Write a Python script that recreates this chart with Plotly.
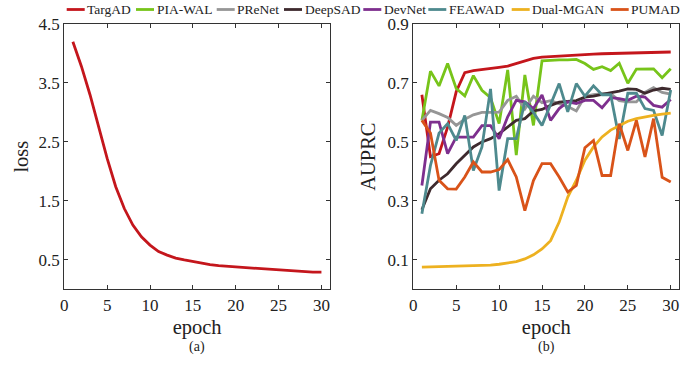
import plotly.graph_objects as go

epochs = list(range(1, 31))

loss = [4.20, 3.78, 3.30, 2.76, 2.22, 1.74, 1.37, 1.09, 0.89, 0.75, 0.64, 0.58, 0.53, 0.50, 0.47,
        0.44, 0.42, 0.40, 0.39, 0.38, 0.36, 0.355, 0.35, 0.34, 0.32, 0.32, 0.31, 0.30, 0.29, 0.29]

targad = [0.66, 0.45, 0.46, 0.55, 0.67, 0.735, 0.742, 0.745, 0.75, 0.753, 0.757, 0.765, 0.775, 0.783, 0.788,
          0.790, 0.792, 0.794, 0.796, 0.797, 0.798, 0.799, 0.800, 0.801, 0.802, 0.803, 0.803, 0.804, 0.804, 0.805]
pia_wal = [0.573, 0.740, 0.690, 0.766, 0.681, 0.656, 0.725, 0.675, 0.650, 0.562, 0.744, 0.455, 0.727, 0.556, 0.775,
           0.777, 0.778, 0.778, 0.780, 0.766, 0.746, 0.755, 0.742, 0.767, 0.699, 0.747, 0.748, 0.748, 0.718, 0.748]
prenet = [0.573, 0.607, 0.596, 0.583, 0.556, 0.577, 0.592, 0.600, 0.600, 0.601, 0.641, 0.655, 0.612, 0.655, 0.633,
          0.640, 0.630, 0.620, 0.605, 0.655, 0.660, 0.664, 0.664, 0.640, 0.636, 0.636, 0.668, 0.684, 0.668, 0.662]
deepsad = [0.27, 0.341, 0.37, 0.392, 0.426, 0.454, 0.483, 0.500, 0.511, 0.528, 0.550, 0.573, 0.579, 0.605, 0.610,
           0.624, 0.635, 0.638, 0.640, 0.652, 0.655, 0.661, 0.666, 0.672, 0.680, 0.678, 0.665, 0.676, 0.682, 0.678]
devnet = [0.352, 0.567, 0.567, 0.460, 0.516, 0.516, 0.516, 0.555, 0.555, 0.511, 0.585, 0.641, 0.636, 0.613, 0.659,
          0.573, 0.613, 0.636, 0.630, 0.641, 0.641, 0.616, 0.650, 0.647, 0.641, 0.655, 0.652, 0.624, 0.618, 0.644]
feawad = [0.256, 0.42, 0.53, 0.562, 0.505, 0.59, 0.403, 0.483, 0.68, 0.335, 0.511, 0.511, 0.636, 0.60, 0.556,
          0.624, 0.698, 0.602, 0.698, 0.655, 0.69, 0.66, 0.66, 0.51, 0.665, 0.665, 0.613, 0.607, 0.522, 0.676]
dual_mgan = [0.075, 0.076, 0.076, 0.077, 0.077, 0.078, 0.079, 0.080, 0.082, 0.085, 0.089, 0.094, 0.103, 0.117, 0.137,
             0.165, 0.228, 0.313, 0.37, 0.438, 0.483, 0.517, 0.540, 0.556, 0.570, 0.579, 0.585, 0.590, 0.594, 0.598]
pumad = [0.573, 0.53, 0.37, 0.341, 0.340, 0.381, 0.432, 0.398, 0.398, 0.406, 0.44, 0.381, 0.267, 0.369, 0.426,
         0.426, 0.381, 0.330, 0.352, 0.48, 0.505, 0.386, 0.386, 0.562, 0.471, 0.573, 0.449, 0.579, 0.380, 0.364]

names = ["TargAD", "PIA-WAL", "PReNet", "DeepSAD", "DevNet", "FEAWAD", "Dual-MGAN", "PUMAD"]
series = [targad, pia_wal, prenet, deepsad, devnet, feawad, dual_mgan, pumad]
colors = ["#C4161C", "#77C41A", "#969696", "#3E2A2E", "#7E2F8E", "#4E8A8E", "#EDB120", "#D95319"]

loss_ticks = [0.5, 1.5, 2.5, 3.5, 4.5]
auprc_ticks = [0.1, 0.3, 0.5, 0.7, 0.9]
epoch_ticks = [0, 5, 10, 15, 20, 25, 30]

W, H = 697, 370
FONT = "Liberation Serif, Times New Roman, serif"

fig = go.Figure()
fig.add_trace(go.Scatter(x=epochs, y=loss, mode="lines", line=dict(color=colors[0], width=2.8),
                         name="loss", showlegend=False, xaxis="x", yaxis="y"))
for nm, s, c in zip(names, series, colors):
    fig.add_trace(go.Scatter(x=epochs, y=s, mode="lines", line=dict(color=c, width=2.8),
                             name=nm, showlegend=False, xaxis="x2", yaxis="y2"))

def px_x(p):
    return p / W

def px_y(p):
    return 1 - p / H

axcol = "#333333"
common_x = dict(range=[0, 31], tickvals=epoch_ticks, ticks="inside", ticklen=4, tickcolor=axcol,
                showline=True, linecolor=axcol, linewidth=1.2, mirror="ticks", showgrid=False, zeroline=False,
                tickfont=dict(family=FONT, size=17, color="#222"),
                title=dict(text="epoch", font=dict(family=FONT, size=20.5, color="#222"), standoff=5))
common_y = dict(ticks="inside", ticklen=4, tickcolor=axcol, showline=True, linecolor=axcol, linewidth=1.2,
                mirror="ticks", showgrid=False, zeroline=False, tickformat=".1f",
                tickfont=dict(family=FONT, size=17, color="#222"))

ytop, ybot = px_y(24), px_y(289.3)
fig.update_layout(
    width=W, height=H, margin=dict(l=0, r=0, t=0, b=0, autoexpand=False),
    paper_bgcolor="white", plot_bgcolor="white",
    font=dict(family=FONT, color="#222"),
    xaxis=dict(domain=[px_x(64.3), px_x(330)], anchor="y", **common_x),
    yaxis=dict(domain=[ybot, ytop], anchor="x", range=[0, 4.5], tickvals=loss_ticks,
               title=dict(text="loss", font=dict(family=FONT, size=20.5, color="#222"), standoff=4), **common_y),
    xaxis2=dict(domain=[px_x(413.3), px_x(679.3)], anchor="y2", **common_x),
    yaxis2=dict(domain=[ybot, ytop], anchor="x2", range=[0, 0.9], tickvals=auprc_ticks,
                title=dict(text="AUPRC", font=dict(family=FONT, size=20.5, color="#222"), standoff=6), **common_y),
    showlegend=False,
)

# custom legend row
leg_line_x = [66.7, 136, 216.7, 284, 363.3, 428.3, 511.7, 610.7]
leg_y = px_y(9.5)
shapes = []
annotations = []
for nm, c, lx in zip(names, colors, leg_line_x):
    shapes.append(dict(type="line", xref="paper", yref="paper", x0=px_x(lx), x1=px_x(lx + 18),
                       y0=leg_y, y1=leg_y, line=dict(color=c, width=2.8)))
    annotations.append(dict(text=nm, xref="paper", yref="paper", x=px_x(lx + 19.5), y=leg_y,
                            xanchor="left", yanchor="middle", showarrow=False, borderpad=0,
                            font=dict(family=FONT, size=13.5, color="#222")))

annotations.append(dict(text="(a)", xref="paper", yref="paper", x=px_x(197), y=px_y(347),
                        xanchor="center", yanchor="middle", showarrow=False,
                        font=dict(family=FONT, size=14, color="#222")))
annotations.append(dict(text="(b)", xref="paper", yref="paper", x=px_x(546), y=px_y(347),
                        xanchor="center", yanchor="middle", showarrow=False,
                        font=dict(family=FONT, size=14, color="#222")))
fig.update_layout(shapes=shapes, annotations=annotations)

fig.write_html("out.html", config={"displayModeBar": False},
               post_script="document.body.style.margin='0';document.body.style.overflow='hidden';")
